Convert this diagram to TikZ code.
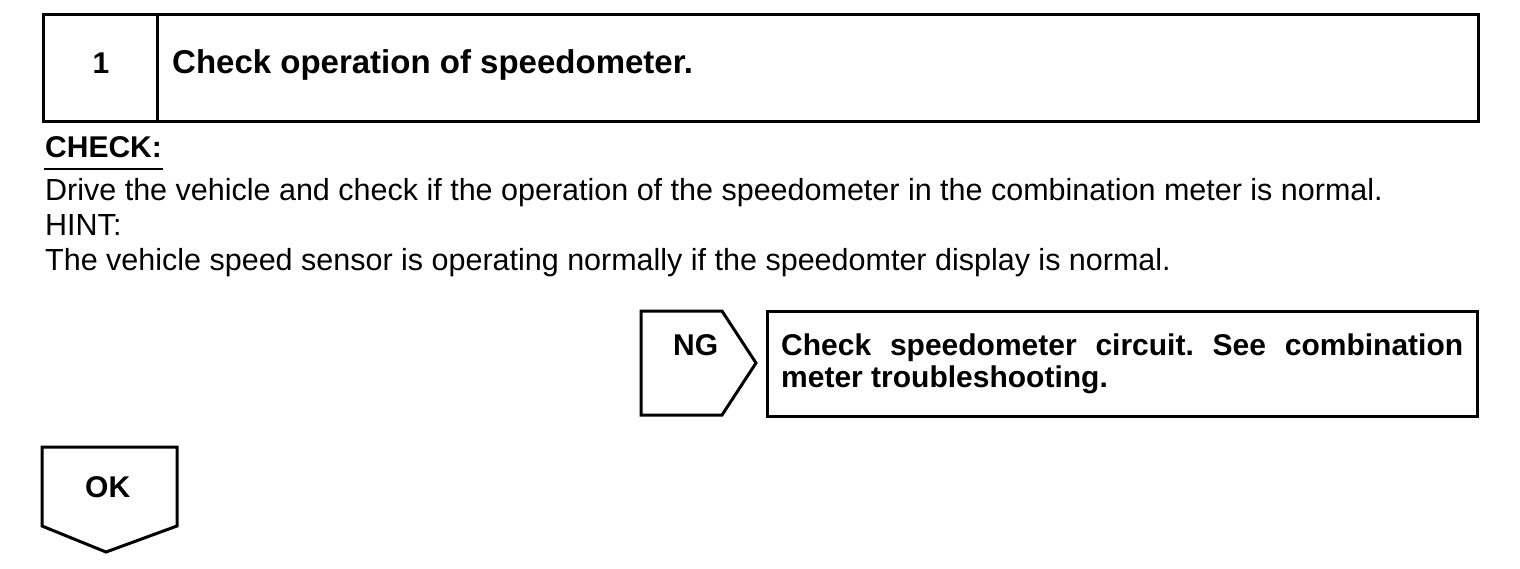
\documentclass[tikz,border=0pt]{standalone}
\usepackage{fontspec}
\setmainfont{Liberation Sans}
\usetikzlibrary{calc,positioning}
\tikzset{manual/.style={
  x=1pt,y=-1pt,
  line join=miter,line cap=rect
}}
\tikzset{frame/.style={draw,line width=3pt}}
\tikzset{body/.style={anchor=base west,inner sep=0pt,font=\fontsize{30.5}{32}\selectfont}}
\tikzset{bold/.style={body,font=\fontsize{30}{32}\selectfont\bfseries}}

\begin{document}
\frenchspacing
\begin{tikzpicture}[manual]
  \useasboundingbox (0,0) rectangle (1520,568);
  % step header
  \draw[frame] (43,14) rectangle (1478,121);
  \draw[frame] (157,14)--(157,121);
  \node[bold,anchor=base] (stepno) at (101,73) {1};
  \node[bold,font=\fontsize{33}{36}\selectfont\bfseries] (steptitle) at (172,73) {Check operation of speedometer.};
  % check text
  \node[bold] (checkhead) at (45,157) {CHECK:};
  \draw[line width=2pt] ($(checkhead.base west)+(0,12)$) coordinate (ulA) -- ($(checkhead.base east)+(0,12)$) coordinate (ulB);
  \node[body] (checkline) at (45,200) {Drive the vehicle and check if the operation of the speedometer in the combination meter is normal.};
  \node[body] (hinthead) at (45,235) {HINT:};
  \node[body] (hintline) at (45,270) {The vehicle speed sensor is operating normally if the speedomter display is normal.};
  % NG branch
  \coordinate (ngA) at (641,311);
  \coordinate (ngB) at (722,311);
  \coordinate (ngC) at (756,363);
  \coordinate (ngD) at (722,415);
  \coordinate (ngE) at (641,415);
  \draw[frame] (ngA)--(ngB)--(ngC)--(ngD)--(ngE)--cycle;
  \node[bold] (ngtext) at (673,355) {NG};
  \draw[frame] (767,311) rectangle (1477,416);
  \node[bold,anchor=base west,text width=682pt,align=justify] (ngaction) at (781,355)
    {Check speedometer circuit. See combination\linebreak meter troubleshooting.};
  % OK branch
  \coordinate (okA) at (42,447);
  \coordinate (okB) at (177,447);
  \coordinate (okC) at (177,526);
  \coordinate (okD) at (106,552);
  \coordinate (okE) at (42,526);
  \draw[frame] (okA)--(okB)--(okC)--(okD)--(okE)--cycle;
  \node[bold] (oktext) at (85,497) {OK};
\end{tikzpicture}
\end{document}
